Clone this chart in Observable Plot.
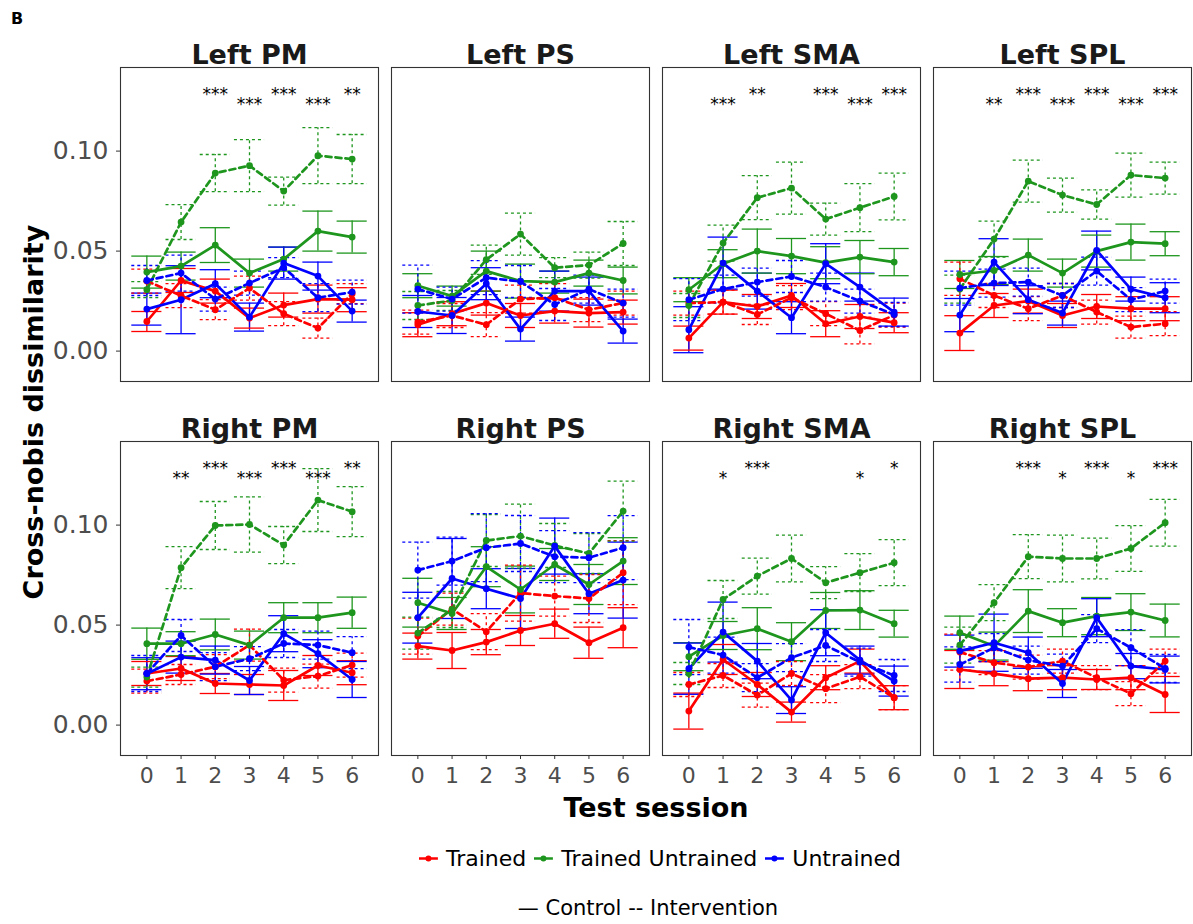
<!DOCTYPE html>
<html><head><meta charset="utf-8">
<script src="https://cdn.jsdelivr.net/npm/d3@7"></script>
<script src="https://cdn.jsdelivr.net/npm/@observablehq/plot@0.6"></script>
<style>
body{margin:0;background:#fff;font-family:"DejaVu Sans",sans-serif;}
#wrap{position:relative;width:1193px;height:924px;overflow:hidden;background:#fff;}
#chart{position:absolute;left:0;top:0;}
.abs{position:absolute;white-space:nowrap;color:#000;}
#legend1 span.item{display:inline-flex;align-items:center;margin-right:8px;}
#legend1 span.item:last-child{margin-right:0;}
#legend1 svg{margin-right:8px;}
</style></head><body>
<div id="wrap">
  <div id="chart"></div>
  <div class="abs" style="left:11px;top:9px;font-weight:bold;font-size:16px;">B</div>
  <div class="abs" id="ylab" style="left:33px;top:412px;transform:translate(-50%,-50%) rotate(-90deg);font-weight:bold;font-size:27px;">Cross-nobis dissimilarity</div>
  <div class="abs" id="xlab" style="left:656px;top:807px;transform:translate(-50%,-50%);font-weight:bold;font-size:27px;">Test session</div>
  <div class="abs" id="legend1" style="left:660px;top:858px;transform:translate(-50%,-50%);font-size:22px;display:flex;align-items:center;"></div>
  <div class="abs" id="legend2" style="left:648px;top:908px;transform:translate(-50%,-50%);font-size:21px;"></div>
</div>
<script>
const sessions = [0, 1, 2, 3, 4, 5, 6];
const conditions = ["Trained", "Trained Untrained", "Untrained"];
const groups = ["Control", "Intervention"];
const colors = ["#ff0000", "#1e961e", "#0000ff"];
const regions = ["Left PM", "Left PS", "Left SMA", "Left SPL", "Right PM", "Right PS", "Right SMA", "Right SPL"];
const roiOrder = ["PM", "PS", "SMA", "SPL"];
const sideOrder = ["Left", "Right"];

// series order: Trained-Control, Trained-Intervention, TrainedUntrained-Control, TrainedUntrained-Intervention, Untrained-Control, Untrained-Intervention
const meanLeftPM = [
  [0.0148, 0.0353, 0.0300, 0.0165, 0.0230, 0.0260, 0.0257],
  [0.0350, 0.0277, 0.0207, 0.0315, 0.0187, 0.0115, 0.0287],
  [0.0395, 0.0425, 0.0530, 0.0390, 0.0460, 0.0600, 0.0570],
  [0.0307, 0.0645, 0.0890, 0.0927, 0.0800, 0.0977, 0.0960],
  [0.0210, 0.0257, 0.0337, 0.0170, 0.0440, 0.0375, 0.0200],
  [0.0353, 0.0390, 0.0260, 0.0340, 0.0417, 0.0267, 0.0295]
];
const seLeftPM = [
  [0.005, 0.006, 0.006, 0.005, 0.006, 0.007, 0.006],
  [0.006, 0.006, 0.005, 0.006, 0.006, 0.005, 0.005],
  [0.008, 0.007, 0.0087, 0.007, 0.006, 0.010, 0.008],
  [0.004, 0.0087, 0.0093, 0.013, 0.007, 0.014, 0.0123],
  [0.008, 0.017, 0.007, 0.007, 0.008, 0.007, 0.0055],
  [0.0075, 0.009, 0.006, 0.006, 0.005, 0.007, 0.006]
];
const meanLeftPS = [
  [0.0132, 0.0187, 0.0240, 0.0178, 0.0200, 0.0190, 0.0195],
  [0.0145, 0.0178, 0.0132, 0.0260, 0.0267, 0.0207, 0.0240],
  [0.0327, 0.0275, 0.0400, 0.0350, 0.0345, 0.0390, 0.0353],
  [0.0228, 0.0253, 0.0457, 0.0585, 0.0417, 0.0430, 0.0538],
  [0.0198, 0.0178, 0.0337, 0.0110, 0.0300, 0.0300, 0.0100],
  [0.0310, 0.0260, 0.0367, 0.0348, 0.0233, 0.0310, 0.0240]
];
const seLeftPS = [
  [0.006, 0.006, 0.006, 0.006, 0.006, 0.007, 0.006],
  [0.006, 0.006, 0.006, 0.007, 0.007, 0.006, 0.006],
  [0.006, 0.005, 0.010, 0.0085, 0.0055, 0.0065, 0.0067],
  [0.007, 0.005, 0.0073, 0.0105, 0.005, 0.0065, 0.011],
  [0.008, 0.009, 0.008, 0.006, 0.010, 0.007, 0.006],
  [0.012, 0.006, 0.0085, 0.008, 0.008, 0.007, 0.007]
];
const meanLeftSMA = [
  [0.0065, 0.0245, 0.0223, 0.0278, 0.0137, 0.0173, 0.0142],
  [0.0240, 0.0245, 0.0183, 0.0267, 0.0187, 0.0103, 0.0180],
  [0.0307, 0.0437, 0.0500, 0.0475, 0.0442, 0.0470, 0.0445],
  [0.0228, 0.0540, 0.0767, 0.0815, 0.0660, 0.0717, 0.0773],
  [0.0107, 0.0440, 0.0300, 0.0167, 0.0437, 0.0320, 0.0195],
  [0.0257, 0.0310, 0.0345, 0.0373, 0.0320, 0.0250, 0.0183]
];
const seLeftSMA = [
  [0.006, 0.006, 0.006, 0.006, 0.0065, 0.006, 0.005],
  [0.006, 0.006, 0.005, 0.006, 0.006, 0.0067, 0.006],
  [0.006, 0.007, 0.011, 0.0088, 0.008, 0.0083, 0.0068],
  [0.006, 0.009, 0.011, 0.013, 0.008, 0.012, 0.0117],
  [0.0115, 0.013, 0.009, 0.008, 0.010, 0.007, 0.007],
  [0.0105, 0.007, 0.007, 0.008, 0.007, 0.006, 0.006]
];
const meanLeftSPL = [
  [0.0090, 0.0228, 0.0250, 0.0178, 0.0223, 0.0212, 0.0212],
  [0.0362, 0.0278, 0.0212, 0.0278, 0.0195, 0.0120, 0.0137],
  [0.0383, 0.0403, 0.0480, 0.0390, 0.0500, 0.0545, 0.0537],
  [0.0310, 0.0560, 0.0850, 0.0780, 0.0733, 0.0880, 0.0865],
  [0.0180, 0.0445, 0.0257, 0.0190, 0.0503, 0.0310, 0.0267],
  [0.0315, 0.0340, 0.0345, 0.0278, 0.0400, 0.0257, 0.0300]
];
const seLeftSPL = [
  [0.0087, 0.006, 0.006, 0.006, 0.006, 0.006, 0.006],
  [0.0083, 0.006, 0.006, 0.006, 0.006, 0.0055, 0.006],
  [0.007, 0.007, 0.008, 0.007, 0.008, 0.009, 0.006],
  [0.007, 0.009, 0.0105, 0.0085, 0.0073, 0.011, 0.008],
  [0.0083, 0.0117, 0.007, 0.006, 0.0097, 0.006, 0.0075],
  [0.0085, 0.007, 0.007, 0.006, 0.007, 0.006, 0.006]
];
const meanRightPM = [
  [0.0258, 0.0283, 0.0208, 0.0203, 0.0198, 0.0298, 0.0262],
  [0.0220, 0.0253, 0.0292, 0.0400, 0.0225, 0.0245, 0.0300],
  [0.0407, 0.0407, 0.0453, 0.0400, 0.0537, 0.0537, 0.0562],
  [0.0240, 0.0787, 0.0998, 0.1003, 0.0900, 0.1125, 0.1067],
  [0.0257, 0.0340, 0.0325, 0.0223, 0.0457, 0.0357, 0.0228],
  [0.0258, 0.0448, 0.0292, 0.0332, 0.0408, 0.0400, 0.0362]
];
const seRightPM = [
  [0.006, 0.006, 0.005, 0.005, 0.0075, 0.005, 0.006],
  [0.006, 0.005, 0.006, 0.008, 0.006, 0.006, 0.006],
  [0.0078, 0.006, 0.0077, 0.007, 0.0075, 0.0075, 0.0078],
  [0.005, 0.0105, 0.012, 0.0138, 0.0093, 0.0157, 0.0125],
  [0.008, 0.008, 0.007, 0.007, 0.009, 0.007, 0.009],
  [0.009, 0.008, 0.007, 0.006, 0.007, 0.007, 0.008]
];
const meanRightPS = [
  [0.0395, 0.0373, 0.0415, 0.0473, 0.0507, 0.0412, 0.0487],
  [0.0445, 0.0580, 0.0467, 0.0660, 0.0645, 0.0633, 0.0762],
  [0.0612, 0.0558, 0.0792, 0.0678, 0.0803, 0.0703, 0.0820],
  [0.0460, 0.0578, 0.0923, 0.0945, 0.0898, 0.0858, 0.1070],
  [0.0537, 0.0733, 0.0682, 0.0633, 0.0895, 0.0657, 0.0725],
  [0.0775, 0.0820, 0.0887, 0.0908, 0.0842, 0.0837, 0.0887]
];
const seRightPS = [
  [0.0065, 0.009, 0.0063, 0.0075, 0.0073, 0.0078, 0.010],
  [0.009, 0.008, 0.009, 0.014, 0.010, 0.012, 0.016],
  [0.0122, 0.008, 0.010, 0.0117, 0.008, 0.010, 0.0117],
  [0.008, 0.009, 0.013, 0.016, 0.011, 0.010, 0.015],
  [0.0127, 0.020, 0.010, 0.015, 0.014, 0.010, 0.019],
  [0.014, 0.012, 0.017, 0.014, 0.013, 0.0125, 0.016]
];
const meanRightSMA = [
  [0.0070, 0.0328, 0.0203, 0.0065, 0.0237, 0.0320, 0.0137],
  [0.0203, 0.0248, 0.0150, 0.0258, 0.0182, 0.0242, 0.0137],
  [0.0342, 0.0448, 0.0482, 0.0417, 0.0573, 0.0575, 0.0507],
  [0.0258, 0.0628, 0.0745, 0.0833, 0.0712, 0.0762, 0.0812],
  [0.0282, 0.0465, 0.0320, 0.0125, 0.0462, 0.0325, 0.0220],
  [0.0390, 0.0350, 0.0237, 0.0337, 0.0398, 0.0315, 0.0248]
];
const seRightSMA = [
  [0.009, 0.0075, 0.006, 0.005, 0.006, 0.006, 0.006],
  [0.006, 0.006, 0.006, 0.006, 0.007, 0.006, 0.006],
  [0.007, 0.007, 0.0105, 0.0095, 0.009, 0.0097, 0.0067],
  [0.0055, 0.0095, 0.009, 0.0117, 0.008, 0.0095, 0.0115],
  [0.0128, 0.015, 0.0088, 0.0067, 0.0115, 0.007, 0.0075],
  [0.0138, 0.009, 0.007, 0.007, 0.008, 0.007, 0.008]
];
const meanRightSPL = [
  [0.0278, 0.0257, 0.0232, 0.0237, 0.0228, 0.0237, 0.0153],
  [0.0365, 0.0312, 0.0290, 0.0320, 0.0237, 0.0157, 0.0320],
  [0.0462, 0.0395, 0.0570, 0.0512, 0.0545, 0.0565, 0.0523],
  [0.0400, 0.0612, 0.0842, 0.0833, 0.0833, 0.0883, 0.1012],
  [0.0370, 0.0412, 0.0362, 0.0208, 0.0537, 0.0295, 0.0278],
  [0.0303, 0.0387, 0.0325, 0.0295, 0.0482, 0.0387, 0.0283]
];
const seRightSPL = [
  [0.0095, 0.006, 0.006, 0.006, 0.005, 0.006, 0.009],
  [0.009, 0.006, 0.006, 0.006, 0.006, 0.006, 0.006],
  [0.0083, 0.007, 0.0107, 0.007, 0.0093, 0.0092, 0.0082],
  [0.009, 0.009, 0.011, 0.0117, 0.0102, 0.0114, 0.0117],
  [0.008, 0.0143, 0.0078, 0.007, 0.0095, 0.0063, 0.0067],
  [0.0088, 0.007, 0.007, 0.006, 0.007, 0.009, 0.007]
];

// significance labels per session
const starsLeftPM   = ["", "", "***", "***", "***", "***", "**"];
const starsLeftPS   = ["", "", "", "", "", "", ""];
const starsLeftSMA  = ["", "***", "**", "", "***", "***", "***"];
const starsLeftSPL  = ["", "**", "***", "***", "***", "***", "***"];
const starsRightPM  = ["", "**", "***", "***", "***", "***", "**"];
const starsRightPS  = ["", "", "", "", "", "", ""];
const starsRightSMA = ["", "*", "***", "", "", "*", "*"];
const starsRightSPL = ["", "", "***", "*", "***", "*", "***"];

const yTicks = [0, 0.05, 0.10];

const means = [meanLeftPM, meanLeftPS, meanLeftSMA, meanLeftSPL, meanRightPM, meanRightPS, meanRightSMA, meanRightSPL];
const ses = [seLeftPM, seLeftPS, seLeftSMA, seLeftSPL, seRightPM, seRightPS, seRightSMA, seRightSPL];
const stars = [starsLeftPM, starsLeftPS, starsLeftSMA, starsLeftSPL, starsRightPM, starsRightPS, starsRightSMA, starsRightSPL];

const rows = [];
const starRows = [];
const titleRows = [];
regions.forEach((reg, ri) => {
  const [side, roi] = reg.split(" ");
  titleRows.push({side, roi, label: reg});
  conditions.forEach((cond, ci) => groups.forEach((grp, gi) => {
    const k = ci * 2 + gi;
    sessions.forEach((s, si) => {
      const m = means[ri][k][si], e = ses[ri][k][si];
      rows.push({region: reg, side, roi, cond, group: grp, series: cond + "|" + grp, session: s, mean: m, lo: m - e, hi: m + e});
    });
  }));
  sessions.forEach((s, si) => {
    const lab = stars[ri][si];
    if (lab) starRows.push({side, roi, session: s, label: lab});
  });
});

const isC = d => d.group === "Control";
const isI = d => d.group === "Intervention";
const capHalf = 0.44;
const starHigh = 0.1284, starStep = 0.005;

function errMarks(filter, dash) {
  const base = {fx: "roi", fy: "side", stroke: "cond", strokeWidth: 1.3, strokeDasharray: dash, filter};
  return [
    Plot.ruleX(rows, {...base, x: "session", y1: "lo", y2: "hi"}),
    Plot.ruleY(rows, {...base, y: "hi", x1: d => d.session - capHalf, x2: d => d.session + capHalf}),
    Plot.ruleY(rows, {...base, y: "lo", x1: d => d.session - capHalf, x2: d => d.session + capHalf})
  ];
}

const chart = Plot.plot({
  width: 1193, height: 830,
  marginTop: 67, marginLeft: 120, marginRight: 2, marginBottom: 75,
  style: {fontFamily: "DejaVu Sans", background: "transparent"},
  x: {domain: [-0.77, 6.77]},
  y: {domain: [-0.0152, 0.1418]},
  fx: {domain: roiOrder, padding: 13 / 271, axis: null},
  fy: {domain: sideOrder, padding: 60 / 374, axis: null},
  color: {domain: conditions, range: colors},
  marks: [
    Plot.frame({stroke: "#333333", strokeWidth: 1.1}),
    Plot.axisY({ticks: yTicks, tickFormat: d3.format(".2f"), tickSize: 4, tickPadding: 8, fontSize: 25, stroke: "#333333", fill: "#4d4d4d", label: null}),
    Plot.axisX({ticks: sessions, tickFormat: d => String(d), tickSize: 4, tickPadding: 8, fontSize: 22, stroke: "#333333", fill: "#4d4d4d", label: null}),
    ...errMarks(isC, null),
    ...errMarks(isI, "3,3"),
    Plot.line(rows, {filter: isC, fx: "roi", fy: "side", x: "session", y: "mean", z: "series", stroke: "cond", strokeWidth: 2.7}),
    Plot.line(rows, {filter: isI, fx: "roi", fy: "side", x: "session", y: "mean", z: "series", stroke: "cond", strokeWidth: 2.7, strokeDasharray: "6,4"}),
    Plot.dot(rows, {fx: "roi", fy: "side", x: "session", y: "mean", fill: "cond", r: 3.4}),
    Plot.text(starRows, {fx: "roi", fy: "side", x: "session", y: d => starHigh - (d.session % 2) * starStep, text: "label", fontSize: 17, fill: "#000"}),
    Plot.text(titleRows, {fx: "roi", fy: "side", text: "label", frameAnchor: "top", dy: -23, fontSize: 27, fontWeight: "bold", fill: "#1a1a1a"})
  ]
});
document.getElementById("chart").appendChild(chart);

// legend
const l1 = document.getElementById("legend1");
conditions.forEach((c, i) => {
  const item = document.createElement("span");
  item.className = "item";
  item.innerHTML = `<svg width="19" height="10"><line x1="0" y1="5" x2="19" y2="5" stroke="${colors[i]}" stroke-width="2.5"/><circle cx="9.5" cy="5" r="3" fill="${colors[i]}"/></svg>`;
  const t = document.createElement("span");
  t.textContent = c;
  item.appendChild(t);
  l1.appendChild(item);
});
document.getElementById("legend2").textContent = "\u2014 " + groups[0] + " -- " + groups[1];
</script>
</body></html>
